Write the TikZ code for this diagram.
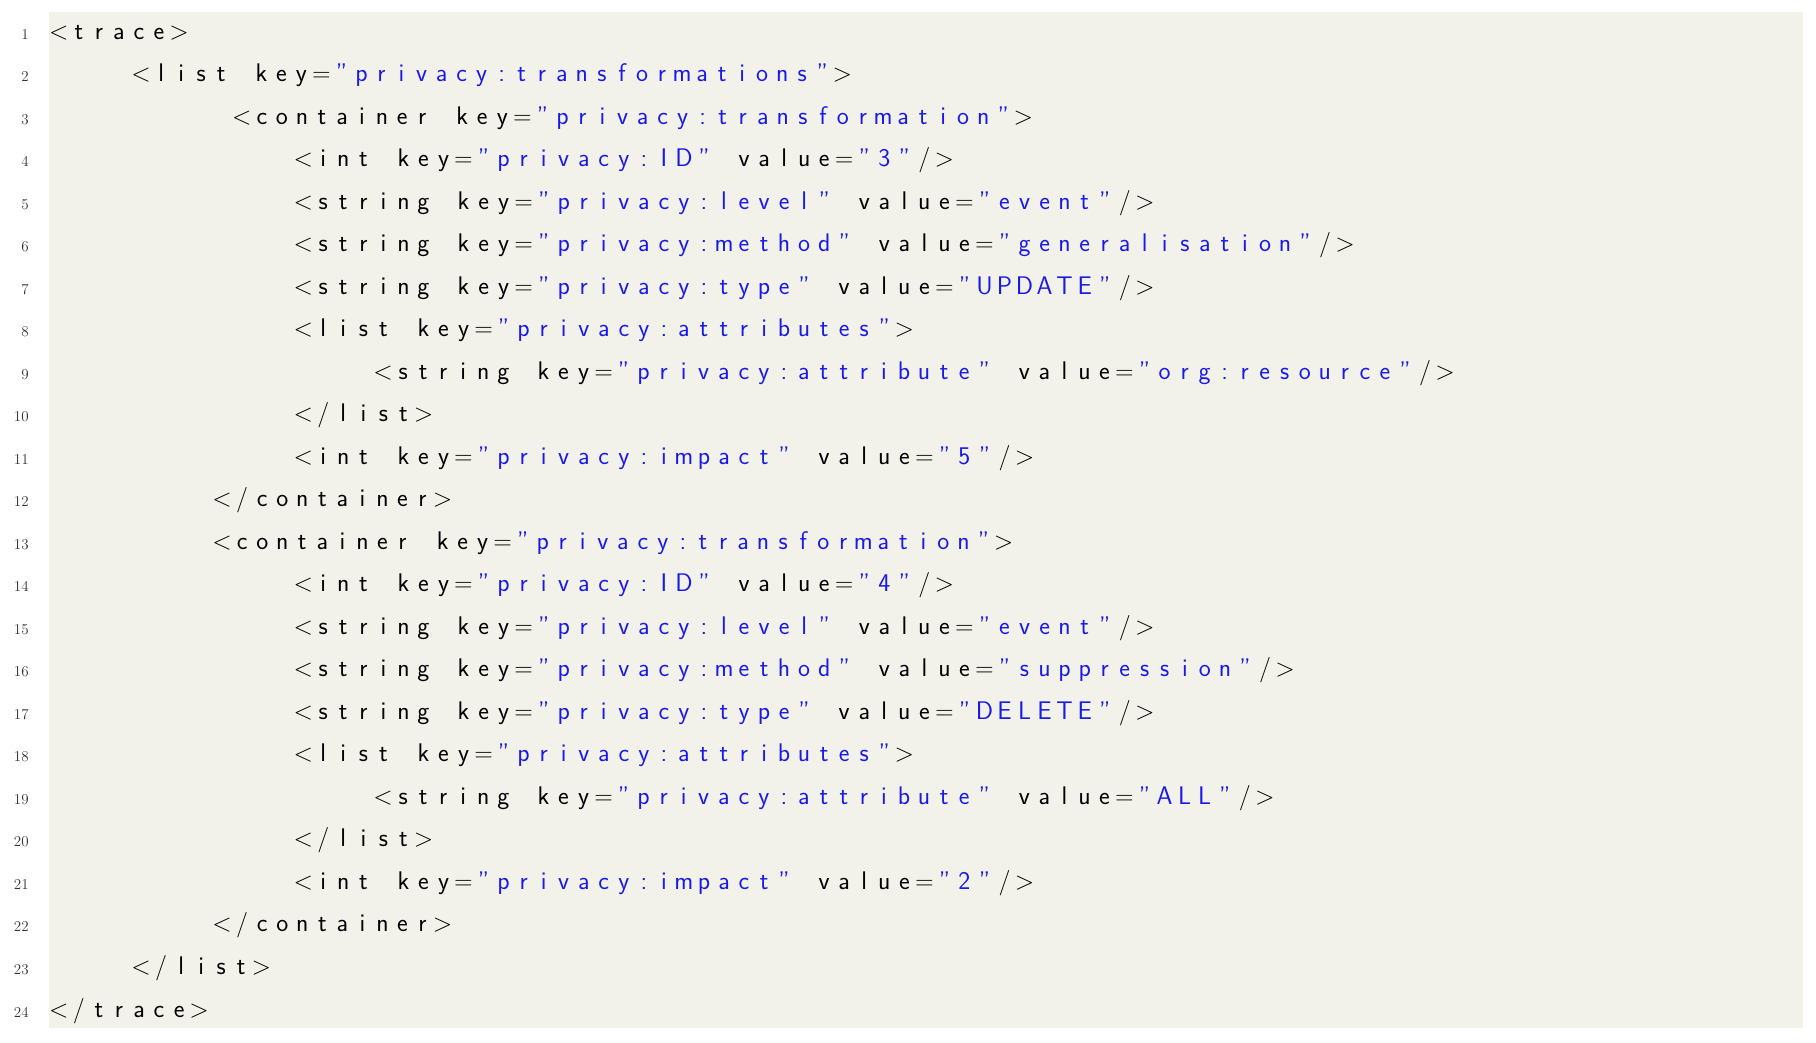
\documentclass[tikz,border=0pt]{standalone}
\usepackage{xcolor}
\definecolor{bgc}{HTML}{F2F1EA}
\definecolor{strc}{HTML}{1A1AE6}
\makeatletter
\newlength\pitch \setlength\pitch{17.3pt}
\newcommand\cd[1]{\@tfor\ch:=#1\do{\makebox[\pitch][c]{\ch}}}
\newcommand\st[1]{{\color{strc}\cd{#1}}}
\makeatother
\begin{document}
\begin{tikzpicture}[x=1pt,y=1pt,
  ln/.style={anchor=base east,inner sep=0pt,font=\fontsize{13}{13}\selectfont,text=black!80},
  code/.style={anchor=base west,inner sep=0pt,font=\sffamily\fontsize{22}{22}\selectfont}]
\useasboundingbox (0,0) rectangle (1568,-900);
\fill[bgc] (42,-10) rectangle (1557,-888);
\newcommand\codeline[3]{%
  \node[ln] (n#1) at (25,{-(34+(#1-1)*36.7)}) {#1};
  \node[code] (c#1) at (#2,{-(34+(#1-1)*36.7)}) {#3};}
\codeline{1}{42}{\cd{<trace>}}
\codeline{2}{113}{\cd{<list~key=}\st{"privacy:transformations"}\cd{>}}
\codeline{3}{200}{\cd{<container~key=}\st{"privacy:transformation"}\cd{>}}
\codeline{4}{253}{\cd{<int~key=}\st{"privacy:ID"}\cd{~value=}\st{"3"}\cd{/>}}
\codeline{5}{253}{\cd{<string~key=}\st{"privacy:level"}\cd{~value=}\st{"event"}\cd{/>}}
\codeline{6}{253}{\cd{<string~key=}\st{"privacy:method"}\cd{~value=}\st{"generalisation"}\cd{/>}}
\codeline{7}{253}{\cd{<string~key=}\st{"privacy:type"}\cd{~value=}\st{"UPDATE"}\cd{/>}}
\codeline{8}{253}{\cd{<list~key=}\st{"privacy:attributes"}\cd{>}}
\codeline{9}{322}{\cd{<string~key=}\st{"privacy:attribute"}\cd{~value=}\st{"org:resource"}\cd{/>}}
\codeline{10}{253}{\cd{</list>}}
\codeline{11}{253}{\cd{<int~key=}\st{"privacy:impact"}\cd{~value=}\st{"5"}\cd{/>}}
\codeline{12}{183}{\cd{</container>}}
\codeline{13}{183}{\cd{<container~key=}\st{"privacy:transformation"}\cd{>}}
\codeline{14}{253}{\cd{<int~key=}\st{"privacy:ID"}\cd{~value=}\st{"4"}\cd{/>}}
\codeline{15}{253}{\cd{<string~key=}\st{"privacy:level"}\cd{~value=}\st{"event"}\cd{/>}}
\codeline{16}{253}{\cd{<string~key=}\st{"privacy:method"}\cd{~value=}\st{"suppression"}\cd{/>}}
\codeline{17}{253}{\cd{<string~key=}\st{"privacy:type"}\cd{~value=}\st{"DELETE"}\cd{/>}}
\codeline{18}{253}{\cd{<list~key=}\st{"privacy:attributes"}\cd{>}}
\codeline{19}{322}{\cd{<string~key=}\st{"privacy:attribute"}\cd{~value=}\st{"ALL"}\cd{/>}}
\codeline{20}{253}{\cd{</list>}}
\codeline{21}{253}{\cd{<int~key=}\st{"privacy:impact"}\cd{~value=}\st{"2"}\cd{/>}}
\codeline{22}{183}{\cd{</container>}}
\codeline{23}{113}{\cd{</list>}}
\codeline{24}{42}{\cd{</trace>}}
\end{tikzpicture}
\end{document}
